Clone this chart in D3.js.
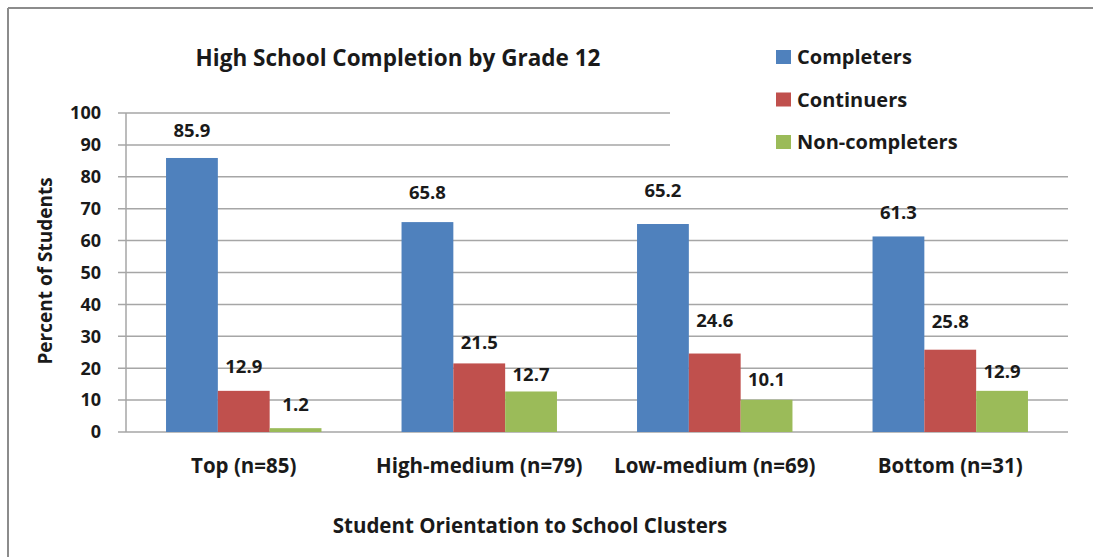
<!DOCTYPE html>
<html>
<head>
<meta charset="utf-8">
<script src="https://cdn.jsdelivr.net/npm/d3@7"></script>
<style>
  body { margin: 0; background: #fff; overflow: hidden; }
  svg { display: block; }
  text { font-family: "Open Sans", Lato, sans-serif; font-weight: bold; fill: #1a1a1a; }
</style>
</head>
<body>
<div id="chart"></div>
<script>
// chart data
var categories = ["Top (n=85)", "High-medium (n=79)", "Low-medium (n=69)", "Bottom (n=31)"];
var seriesNames = ["Completers", "Continuers", "Non-completers"];
var completers = [85.9, 65.8, 65.2, 61.3];
var continuers = [12.9, 21.5, 24.6, 25.8];
var nonCompleters = [1.2, 12.7, 10.1, 12.9];
var yTicks = [0, 10, 20, 30, 40, 50, 60, 70, 80, 90, 100];

// label lift above bar top (px), labels were hand placed in the original
var labelLift = [[27, 30, 33, 24], [24, 21, 33, 28], [24, 17, 20, 19]];

var colors = ["#4f81bd", "#c0504d", "#9bbb59"];
var series = [completers, continuers, nonCompleters];

var W = 1093, H = 557;
var plotLeft = 126, plotRight = 1068, plotTop = 113, plotBottom = 432;

var svg = d3.select("#chart")
  .append("svg")
  .attr("width", W)
  .attr("height", H);

// outer frame: only the top and left edges show
svg.append("line")
  .attr("x1", 8).attr("x2", W).attr("y1", 8).attr("y2", 8)
  .attr("stroke", "#8c8c8c").attr("stroke-width", 2);
svg.append("line")
  .attr("x1", 8).attr("x2", 8).attr("y1", 8).attr("y2", H)
  .attr("stroke", "#8c8c8c").attr("stroke-width", 2);

var x = d3.scaleBand()
  .domain(categories)
  .range([plotLeft, plotRight])
  .paddingInner(0.34)
  .paddingOuter(0.17);

var x1 = d3.scaleBand()
  .domain(d3.range(series.length))
  .range([0, x.bandwidth()]);

var y = d3.scaleLinear()
  .domain([0, 100])
  .range([plotBottom, plotTop]);

// gridlines
svg.append("g")
  .selectAll("line")
  .data(yTicks)
  .enter()
  .append("line")
    .attr("x1", plotLeft - 8)
    .attr("x2", plotRight)
    .attr("y1", function(d) { return y(d); })
    .attr("y2", function(d) { return y(d); })
    .attr("stroke", "#a6a6a6")
    .attr("stroke-width", 1.5);

// y axis line
svg.append("line")
  .attr("x1", plotLeft).attr("x2", plotLeft)
  .attr("y1", plotTop).attr("y2", plotBottom)
  .attr("stroke", "#a6a6a6")
  .attr("stroke-width", 1.5);

// y tick labels
svg.append("g")
  .selectAll("text")
  .data(yTicks)
  .enter()
  .append("text")
    .attr("x", 101)
    .attr("y", function(d) { return y(d); })
    .attr("dy", "0.35em")
    .attr("text-anchor", "end")
    .style("font-size", "18px")
    .text(function(d) { return d; });

// bars
var groups = svg.append("g")
  .selectAll("g")
  .data(series)
  .enter()
  .append("g")
    .attr("fill", function(d, i) { return colors[i]; });

groups.each(function(vals, si) {
  var g = d3.select(this);
  g.selectAll("rect")
    .data(vals)
    .enter()
    .append("rect")
      .attr("x", function(d, ci) { return x(categories[ci]) + x1(si); })
      .attr("y", function(d) { return y(d); })
      .attr("width", x1.bandwidth())
      .attr("height", function(d) { return y(0) - y(d); });

  svg.append("g")
    .selectAll("text")
    .data(vals)
    .enter()
    .append("text")
      .attr("x", function(d, ci) { return x(categories[ci]) + x1(si) + x1.bandwidth() / 2; })
      .attr("y", function(d, ci) { return y(d) - labelLift[si][ci]; })
      .attr("dy", "0.35em")
      .attr("text-anchor", "middle")
      .style("font-size", "18.5px")
      .text(function(d) { return d.toFixed(1); });
});

// legend box covers the upper gridlines
svg.append("rect")
  .attr("x", 670).attr("y", 30)
  .attr("width", 400).attr("height", 128)
  .attr("fill", "#fff");

var legend = svg.append("g")
  .selectAll("g")
  .data(seriesNames)
  .enter()
  .append("g")
    .attr("transform", function(d, i) { return "translate(776," + (57 + i * 42.5) + ")"; });

legend.append("rect")
  .attr("x", 0).attr("y", -7)
  .attr("width", 15).attr("height", 14)
  .attr("fill", function(d, i) { return colors[i]; });

legend.append("text")
  .attr("x", 21)
  .attr("dy", "0.35em")
  .style("font-size", "20px")
  .text(function(d) { return d; });

// category labels
svg.append("g")
  .selectAll("text")
  .data(categories)
  .enter()
  .append("text")
    .attr("x", function(d) { return x(d) + x.bandwidth() / 2; })
    .attr("y", 466)
    .attr("dy", "0.35em")
    .attr("text-anchor", "middle")
    .style("font-size", "20.5px")
    .text(function(d) { return d; });

// title
svg.append("text")
  .attr("x", 398).attr("y", 58)
  .attr("dy", "0.35em")
  .attr("text-anchor", "middle")
  .style("font-size", "22.5px")
  .text("High School Completion by Grade 12");

// axis titles
svg.append("text")
  .attr("x", 530).attr("y", 526)
  .attr("dy", "0.35em")
  .attr("text-anchor", "middle")
  .style("font-size", "20.5px")
  .text("Student Orientation to School Clusters");

svg.append("text")
  .attr("transform", "translate(45,271) rotate(-90)")
  .attr("dy", "0.35em")
  .attr("text-anchor", "middle")
  .style("font-size", "19px")
  .text("Percent of Students");
</script>
</body>
</html>
